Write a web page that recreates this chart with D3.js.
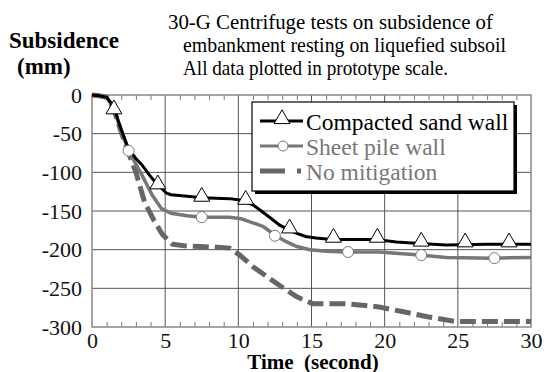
<!DOCTYPE html>
<html lang="en">
<head>
<meta charset="utf-8">
<title>Subsidence</title>
<script src="https://cdnjs.cloudflare.com/ajax/libs/d3/7.8.5/d3.min.js"></script>
<style>
  body { margin: 0; background: white; }
  svg { display: block; }
</style>
</head>
<body>
<div id="chart"></div>
<script>
// data (time in s, subsidence in mm)
const sandT = [0, 0.5, 1.0, 1.3, 1.6, 2.0, 2.5, 3.0, 3.4, 3.9, 4.3, 4.6, 5.1, 5.4, 6.5, 7.5, 9.4, 10.2, 10.6, 11.0, 11.5, 12.2, 12.8, 13.5, 14.0, 14.6, 15.3, 16.4, 19.4, 20.8, 22.4, 24.2, 27.0, 30];
const sandV = [0, -1, -3, -10, -22, -45, -70, -82, -90, -103, -112, -118, -127, -129, -131, -133, -134, -136, -139, -142, -149, -159, -168, -175, -179, -183, -185, -187, -187, -190, -192, -194, -193, -193];
const sandMarkT = [1.5, 4.5, 7.5, 10.5, 13.5, 16.5, 19.5, 22.5, 25.5, 28.5];
const sandMarkV = [-21, -118, -134, -138, -175, -187, -187, -192, -193, -193];

const sheetT = [0, 0.5, 1.0, 1.3, 1.6, 2.0, 2.5, 2.9, 3.4, 4.1, 4.75, 5.4, 6.5, 7.5, 9.4, 10.2, 10.8, 11.7, 12.5, 13.2, 14.0, 14.9, 16.0, 17.4, 19.6, 22.4, 24.2, 27.4, 30];
const sheetV = [0, -1, -3, -12, -24, -47, -72, -86, -103, -129, -147, -153, -156, -158, -158, -160, -164, -170, -181, -189, -196, -200, -202, -203, -203, -207, -210, -211, -210];
const sheetMarkT = [2.5, 7.5, 12.5, 17.5, 22.5, 27.5];
const sheetMarkV = [-72, -158, -182, -203, -207, -211];

const noneT = [0, 0.5, 1.0, 1.3, 1.6, 2.0, 2.5, 3.0, 3.6, 4.2, 4.8, 5.5, 6.3, 7.4, 8.6, 9.4, 10.1, 11.0, 11.9, 12.8, 14.0, 15.1, 17.4, 19.6, 21.2, 23.0, 24.9, 25.8, 30];
const noneV = [0, -1, -3, -12, -25, -48, -75, -100, -139, -161, -180, -193, -195, -196, -197, -198, -207, -222, -234, -246, -261, -270, -270, -274, -280, -287, -293, -293, -293];

const xTicks = [0, 5, 10, 15, 20, 25, 30];
const yTicks = [0, -50, -100, -150, -200, -250, -300];
const titleLines = ["30-G Centrifuge tests on subsidence of", "embankment resting on liquefied subsoil", "All data plotted in prototype scale."];
const legendLabels = ["Compacted sand wall", "Sheet pile wall", "No mitigation"];

const W = 544, H = 372;
const pLeft = 92, pRight = 531, pTop = 95, pBottom = 327;
const serif = "'Liberation Serif'";

const svg = d3.select("#chart").append("svg")
  .attr("width", W).attr("height", H)
  .style("font-family", serif);

const x = d3.scaleLinear().domain([0, 30]).range([pLeft, pRight]);
const y = d3.scaleLinear().domain([-300, 0]).range([pBottom, pTop]);

// grid
svg.append("g").selectAll("line").data(xTicks.slice(1, -1)).join("line")
  .attr("x1", d => x(d)).attr("x2", d => x(d))
  .attr("y1", pTop).attr("y2", pBottom)
  .attr("stroke", "#555").attr("stroke-width", 1);
svg.append("g").selectAll("line").data(yTicks.slice(1, -1)).join("line")
  .attr("x1", pLeft).attr("x2", pRight)
  .attr("y1", d => y(d)).attr("y2", d => y(d))
  .attr("stroke", "#555").attr("stroke-width", 1);

// minor ticks top and bottom, inside
const minor = d3.range(0, 31, 1).filter(d => d % 5 != 0);
svg.append("g").attr("transform", `translate(0,${pTop})`)
  .call(d3.axisBottom(x).tickValues(minor).tickSize(5).tickFormat(""))
  .call(g => g.select(".domain").remove())
  .selectAll("line").attr("stroke", "#777");
svg.append("g").attr("transform", `translate(0,${pBottom})`)
  .call(d3.axisTop(x).tickValues(minor).tickSize(5).tickFormat(""))
  .call(g => g.select(".domain").remove())
  .selectAll("line").attr("stroke", "#777");

// plot border
svg.append("rect")
  .attr("x", pLeft).attr("y", pTop)
  .attr("width", pRight - pLeft).attr("height", pBottom - pTop)
  .attr("fill", "none").attr("stroke", "#888").attr("stroke-width", 1.5);

// tick labels
svg.append("g").attr("transform", `translate(0,${pBottom})`)
  .call(d3.axisBottom(x).tickValues(xTicks).tickSize(0).tickPadding(5).tickFormat(d => String(d)))
  .call(g => g.select(".domain").remove())
  .call(g => g.attr("font-family", null).attr("font-size", null))
  .selectAll("text")
  .style("font-family", serif).style("font-size", "22px").attr("fill", "#111");
svg.append("g").attr("transform", `translate(${pLeft},0)`)
  .call(d3.axisLeft(y).tickValues(yTicks).tickSize(0).tickPadding(10).tickFormat(d => String(d)))
  .call(g => g.select(".domain").remove())
  .call(g => g.attr("font-family", null).attr("font-size", null))
  .selectAll("text")
  .style("font-family", serif).style("font-size", "22px").attr("fill", "#111");

// lines
const line = (ts, vs) => d3.line().x((d, i) => x(ts[i])).y((d, i) => y(vs[i]))(ts);

svg.append("path").attr("d", line(noneT, noneV))
  .attr("fill", "none").attr("stroke", "#666").attr("stroke-width", 5)
  .attr("stroke-dasharray", "16,6");
svg.append("path").attr("d", line(sheetT, sheetV))
  .attr("fill", "none").attr("stroke", "#777").attr("stroke-width", 3.5);
svg.append("path").attr("d", line(sandT, sandV))
  .attr("fill", "none").attr("stroke", "#000").attr("stroke-width", 3);

const tri = d3.symbol().type(d3.symbolTriangle).size(110);
svg.append("g").selectAll("path").data(sandMarkT).join("path")
  .attr("d", tri)
  .attr("transform", (d, i) => `translate(${x(d)},${y(sandMarkV[i]) - 2})`)
  .attr("fill", "white").attr("stroke", "#000").attr("stroke-width", 1);
svg.append("g").selectAll("circle").data(sheetMarkT).join("circle")
  .attr("cx", d => x(d)).attr("cy", (d, i) => y(sheetMarkV[i]))
  .attr("r", 5.5)
  .attr("fill", "white").attr("stroke", "#777").attr("stroke-width", 1);

// legend
const lg = svg.append("g");
lg.append("rect").attr("x", 255).attr("y", 105).attr("width", 262).attr("height", 89).attr("fill", "#000");
lg.append("rect").attr("x", 252).attr("y", 102).attr("width", 262).attr("height", 89)
  .attr("fill", "white").attr("stroke", "#000").attr("stroke-width", 1.2);
const rowY = [121, 146, 171];
const legColor = ["#000", "#777", "#777"];
legendLabels.forEach((lab, i) => {
  lg.append("text").attr("x", 306).attr("y", rowY[i] + 9)
    .style("font-size", "23.5px").attr("fill", legColor[i]).text(lab);
});
lg.append("line").attr("x1", 260).attr("x2", 303).attr("y1", rowY[0]).attr("y2", rowY[0])
  .attr("stroke", "#000").attr("stroke-width", 3);
lg.append("path").attr("d", tri).attr("transform", `translate(282,${rowY[0] - 2})`)
  .attr("fill", "white").attr("stroke", "#000");
lg.append("line").attr("x1", 260).attr("x2", 303).attr("y1", rowY[1]).attr("y2", rowY[1])
  .attr("stroke", "#777").attr("stroke-width", 3);
lg.append("circle").attr("cx", 283).attr("cy", rowY[1]).attr("r", 5)
  .attr("fill", "white").attr("stroke", "#777");
lg.append("line").attr("x1", 260).attr("x2", 303).attr("y1", rowY[2]).attr("y2", rowY[2])
  .attr("stroke", "#666").attr("stroke-width", 5).attr("stroke-dasharray", "25,12,4,10");

// titles (widths matched to the reference)
const titleLen = [325, 323, 265];
svg.append("g").selectAll("text").data(titleLines).join("text")
  .attr("x", (d, i) => i == 0 ? 168 : 183)
  .attr("y", (d, i) => 29 + i * 23)
  .attr("textLength", (d, i) => titleLen[i])
  .attr("lengthAdjust", "spacingAndGlyphs")
  .style("font-size", "21px").attr("fill", "#000")
  .text(d => d);

svg.append("text").attr("x", 9).attr("y", 48)
  .style("font-size", "23px").style("font-weight", "bold").text("Subsidence");
svg.append("text").attr("x", 17).attr("y", 74)
  .style("font-size", "23px").style("font-weight", "bold").text("(mm)");
svg.append("text").attr("x", 313).attr("y", 369).attr("text-anchor", "middle")
  .style("font-size", "21px").style("font-weight", "bold").text("Time  (second)")
  .style("white-space", "pre");
</script>
</body>
</html>
